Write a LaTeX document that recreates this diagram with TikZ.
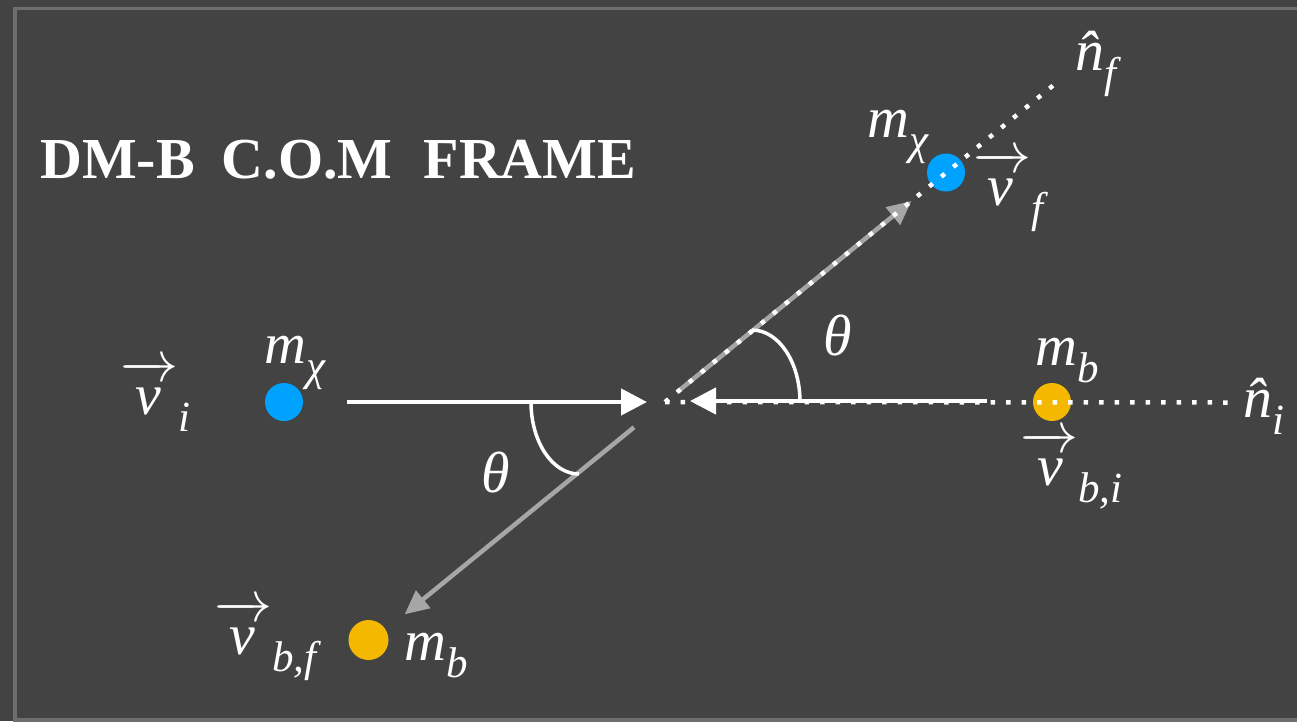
\RequirePackage{fix-cm}
\documentclass[tikz,border=0pt]{standalone}
\usepackage{fontspec}
\setmainfont{Liberation Serif}
\usetikzlibrary{arrows.meta,calc}
\definecolor{bgc}{HTML}{434343}
\definecolor{framec}{HTML}{6E6E6E}
\definecolor{dmblue}{HTML}{00A2FF}
\definecolor{bgold}{HTML}{F5B800}
\definecolor{arrgray}{HTML}{A6A6A6}
\newcommand\mfont{\fontsize{58}{60}\selectfont\itshape}
\newcommand\subt[1]{\raisebox{-17pt}{\fontsize{43}{43}\selectfont\itshape #1}}
\newcommand\vv[2]{$\overrightarrow{\hbox{\kern#1\raisebox{0pt}[34pt][0pt]{v}\kern#2}}$}
\tikzset{
  lbl/.style={text=white, inner sep=0pt, anchor=base west, font=\mfont},
  particle/.style={circle, inner sep=0pt, minimum size=38pt},
  whitearrow/.style={white, line width=4.5pt, -{Triangle[length=26pt,width=26pt]}},
  grayarrow/.style={arrgray, line width=4.5pt, -{Triangle[length=24pt,width=22pt]}},
  dotline/.style={white, line width=4.5pt, dash pattern=on 4.5pt off 11pt},
  anglearc/.style={white, line width=3.5pt}
}
\begin{document}
\begin{tikzpicture}[x=1pt,y=-1pt]
\useasboundingbox (0,0) rectangle (1297,721);
\fill[bgc] (0,0) rectangle (1297,721);
\draw[framec, line width=3.5pt] (15,8.5) rectangle (1320,720);

% title
\node[anchor=base west, inner sep=0pt, text=white, font=\fontsize{58}{60}\selectfont\bfseries]
  (title) at (40,178) {DM-B\hspace{27pt}C.O.M\hspace{31pt}FRAME};

% key points
\coordinate (C) at (665,402);
\coordinate (lstart) at (347,402);
\coordinate (ltip) at (647,402);
\coordinate (rstart) at (987,401);
\coordinate (rtip) at (690,401);
\coordinate (niend) at (1230,402.5);
\coordinate (nfend) at ($(C)+(-39.2:510)$);
\coordinate (ugstart) at ($(C)+(-39.2:17)$);
\coordinate (ugtip) at ($(C)+(-39.2:318)$);
\coordinate (lgstart) at ($(C)+(140.8:40)$);
\coordinate (lgtip) at ($(C)+(140.8:336)$);

% particles
\node[particle, fill=dmblue] (chiI) at (284,402) {};
\node[particle, fill=bgold] (bI) at (1052,402) {};
\node[particle, fill=dmblue] (chiF) at (946,172.5) {};
\node[particle, fill=bgold, minimum width=38pt, minimum height=40pt] (bF) at (368.5,640) {};

% gray outgoing arrows
\draw[grayarrow] (ugstart) -- (ugtip);
\draw[grayarrow] (lgstart) -- (lgtip);

% white incoming arrows
\draw[whitearrow] (lstart) -- (ltip);
\draw[whitearrow] (rstart) -- (rtip);

% dotted axes
\draw[dotline] (C) -- (niend);
\draw[dotline] (C) -- (nfend);

% angle arcs
\draw[anglearc] (752,330) .. controls (778.5,330) and (800,362) .. (800,402);
\draw[anglearc] (531,402) .. controls (531,442) and (552.5,474) .. (579,474);

% labels
\node[lbl] (vi) at (120,414) {\vv{14pt}{16pt}\subt{i}};
\node[lbl] (mchiI) at (264,363) {m\subt{χ}};
\node[lbl] (mbI) at (1035,365) {m\subt{b}};
\node[lbl] (vbi) at (1020,485) {\vv{16pt}{14pt}\subt{b,i}};
\node[lbl] (ni) at (1243,417) {\^{n}\subt{i}};
\node[lbl] (mchiF) at (867,137) {m\subt{χ}};
\node[lbl] (vf) at (973,205) {\vv{14pt}{18pt}\subt{f}};
\node[lbl] (nf) at (1075,70) {\^{n}\subt{f}};
\node[text=white, inner sep=0pt, font=\mfont] (thU) at (838,335) {θ};
\node[text=white, inner sep=0pt, font=\mfont] (thL) at (496,472) {θ};
\node[lbl] (vbf) at (214,654) {\vv{14pt}{16pt}\subt{b,f}};
\node[lbl] (mbF) at (404,660) {m\subt{b}};
\end{tikzpicture}
\end{document}
